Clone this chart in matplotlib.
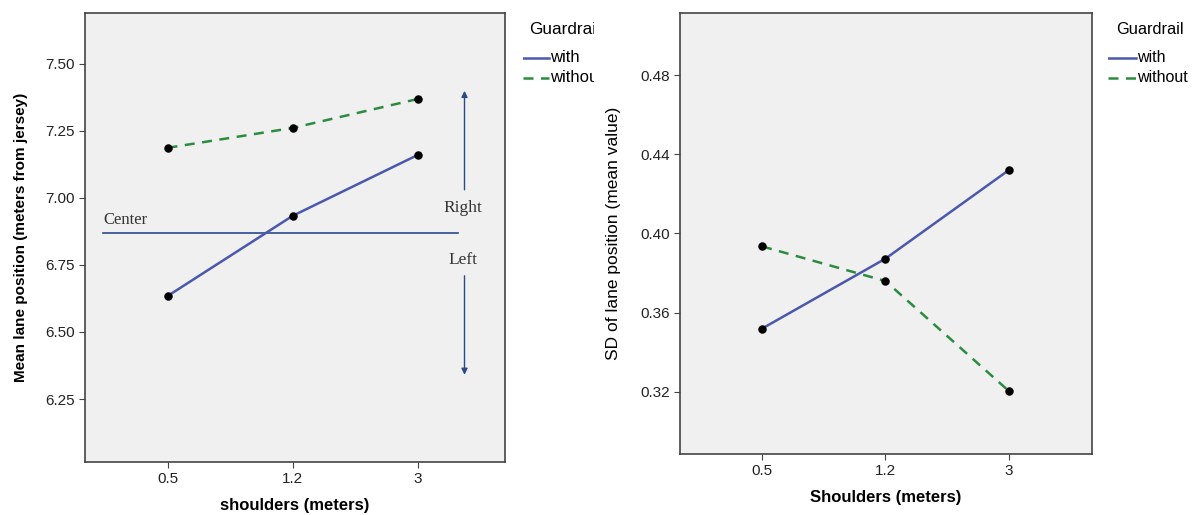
import matplotlib.pyplot as plt

plt.rcParams["font.family"] = ["Liberation Sans", "DejaVu Sans"]

shoulders = ["0.5", "1.2", "3"]
groups = ["with", "without"]

mean_with = [6.634, 6.933, 7.160]
mean_without = [7.187, 7.261, 7.369]

sd_with = [0.352, 0.3873, 0.432]
sd_without = [0.3935, 0.376, 0.3205]

left_ticks = [6.25, 6.50, 6.75, 7.00, 7.25, 7.50]
right_ticks = [0.32, 0.36, 0.40, 0.44, 0.48]

center_y = 6.869

BLUE = "#4a58ad"
GREEN = "#2b8c3e"
ARROW = "#2a4a8a"
BG = "#f0f0f0"
FRAME = "#444444"

W, H = 1195, 515


def style_axes(ax):
    ax.set_facecolor(BG)
    for s in ax.spines.values():
        s.set_color(FRAME)
        s.set_linewidth(1.2)
    ax.tick_params(axis="both", direction="out", length=4, width=0.8,
                   color=FRAME, labelsize=11, labelcolor="#222222")


def draw_lines(ax, y_with, y_without):
    x = range(len(shoulders))
    ax.plot(x, y_with, color=BLUE, lw=1.8, zorder=3)
    ax.plot(x, y_without, color=GREEN, lw=1.8, ls=(0, (4, 3)), zorder=3)
    ax.scatter(x, y_with, s=26, color="black", zorder=4)
    ax.scatter(x, y_without, s=26, color="black", zorder=4)
    ax.set_xticks(list(x))
    ax.set_xticklabels(shoulders)


def draw_legend(fig, left_px, right_px, line_len, title_dx, size, title):
    # legend box in pixel units, clipped at its right edge
    top_px, bot_px = 15, 90
    lg = fig.add_axes([left_px / W, 1 - bot_px / H,
                       (right_px - left_px) / W, (bot_px - top_px) / H])
    lg.set_xlim(0, right_px - left_px)
    lg.set_ylim(bot_px - top_px, 0)
    lg.axis("off")
    lg.text(title_dx, 15, title, fontsize=size + 0.3, va="center", ha="left",
            clip_on=True)
    lg.plot([0, line_len], [43, 43], color=BLUE, lw=1.8, clip_on=True)
    lg.plot([0, line_len], [62.5, 62.5], color=GREEN, lw=1.8, ls=(0, (4, 3)),
            clip_on=True)
    lg.text(line_len + 1, 43, groups[0], fontsize=size, va="center", ha="left",
            clip_on=True)
    lg.text(line_len + 1, 62.5, groups[1], fontsize=size, va="center", ha="left",
            clip_on=True)


fig = plt.figure(figsize=(W / 100, H / 100), dpi=100)

# left panel: mean lane position
ax1 = fig.add_axes([85 / W, 1 - 462 / H, 420 / W, 449 / H])
style_axes(ax1)
draw_lines(ax1, mean_with, mean_without)
ax1.set_xlim(-0.66, 2.70)
ax1.set_ylim(6.015, 7.69)
ax1.set_yticks(left_ticks)
ax1.set_yticklabels([f"{v:.2f}" for v in left_ticks])
ax1.set_xlabel("shoulders (meters)", fontsize=12, fontweight="bold", labelpad=8)
ax1.set_ylabel("Mean lane position (meters from jersey)", fontsize=11,
               fontweight="bold", labelpad=12)

ax1.plot([-0.52, 2.32], [center_y, center_y], color=ARROW, lw=1.2, zorder=2)
ax1.text(-0.51, center_y + 0.02, "Center", family="Liberation Serif",
         fontsize=12, va="bottom", ha="left", color="#333333")
ax1.annotate("", xy=(2.376, 7.41), xytext=(2.376, 7.02),
             arrowprops=dict(arrowstyle="-|>", color=ARROW, lw=1.0,
                             mutation_scale=9))
ax1.annotate("", xy=(2.376, 6.33), xytext=(2.376, 6.72),
             arrowprops=dict(arrowstyle="-|>", color=ARROW, lw=1.0,
                             mutation_scale=9))
ax1.text(2.36, 6.962, "Right", family="Liberation Serif", fontsize=12.5,
         ha="center", va="center", color="#333333")
ax1.text(2.36, 6.77, "Left", family="Liberation Serif", fontsize=12.5,
         ha="center", va="center", color="#333333")

draw_legend(fig, 523, 594, 26, 6, 12, "Guardrail")

# right panel: SD of lane position
ax2 = fig.add_axes([680 / W, 1 - 454 / H, 412 / W, 441 / H])
style_axes(ax2)
draw_lines(ax2, sd_with, sd_without)
ax2.set_xlim(-0.665, 2.674)
ax2.set_ylim(0.2887, 0.5113)
ax2.set_yticks(right_ticks)
ax2.set_yticklabels([f"{v:.2f}" for v in right_ticks])
ax2.set_xlabel("Shoulders (meters)", fontsize=12, fontweight="bold", labelpad=8)
ax2.set_ylabel("SD of lane position (mean value)", fontsize=12.5, labelpad=14)

draw_legend(fig, 1108, 1195, 28, 8, 11.5, "Guardrail")

fig.savefig("out.png", dpi=100)
